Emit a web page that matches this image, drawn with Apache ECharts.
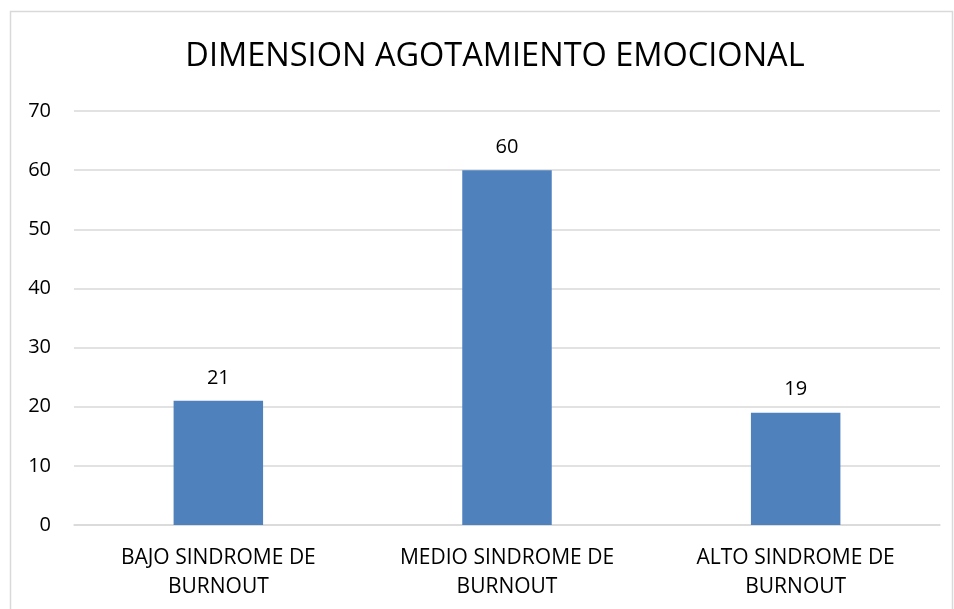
<!DOCTYPE html>
<html>
<head>
<meta charset="utf-8">
<script src="https://cdn.jsdelivr.net/npm/echarts@6/dist/echarts.min.js"></script>
<style>
  html, body { margin: 0; padding: 0; background: #fff; }
  #chart { width: 954px; height: 609px; }
</style>
</head>
<body>
<div id="chart"></div>
<script>
const categories = ['BAJO SINDROME DE\nBURNOUT', 'MEDIO SINDROME DE\nBURNOUT', 'ALTO SINDROME DE\nBURNOUT'];
const values = [21, 60, 19];
const yTicks = { min: 0, max: 70, interval: 10 };

const font = '"Open Sans", "Noto Sans", sans-serif';

const chart = echarts.init(document.getElementById('chart'));

chart.setOption({
  backgroundColor: '#ffffff',
  animation: false,
  graphic: [{
    type: 'rect',
    shape: { x: 10.5, y: 11.5, width: 942, height: 620 },
    style: { fill: 'none', stroke: '#d9d9d9', lineWidth: 1.5 },
    silent: true
  }],
  title: {
    text: 'DIMENSION AGOTAMIENTO EMOCIONAL',
    left: 490,
    textAlign: 'center',
    top: 35,
    textStyle: { fontFamily: font, fontSize: 32.5, fontWeight: 'normal', color: '#000' }
  },
  grid: { left: 74, right: 14, top: 111, bottom: 84 },
  xAxis: {
    type: 'category',
    data: categories,
    axisLine: { lineStyle: { color: '#d9d9d9', width: 1.5 } },
    axisTick: { show: false },
    axisLabel: {
      fontFamily: font, fontSize: 21, color: '#000',
      lineHeight: 29, margin: 19, interval: 0
    }
  },
  yAxis: {
    type: 'value',
    min: yTicks.min,
    max: yTicks.max,
    interval: yTicks.interval,
    axisLine: { show: false },
    axisTick: { show: false },
    splitLine: { lineStyle: { color: '#d9d9d9', width: 1.5 } },
    axisLabel: { fontFamily: font, fontSize: 20, color: '#000', margin: 23 }
  },
  series: [{
    type: 'bar',
    data: values,
    barWidth: '31%',
    itemStyle: { color: '#4f81bd' },
    label: {
      show: true,
      position: 'top',
      distance: 13,
      fontFamily: font,
      fontSize: 20,
      color: '#000'
    }
  }]
});
</script>
</body>
</html>
